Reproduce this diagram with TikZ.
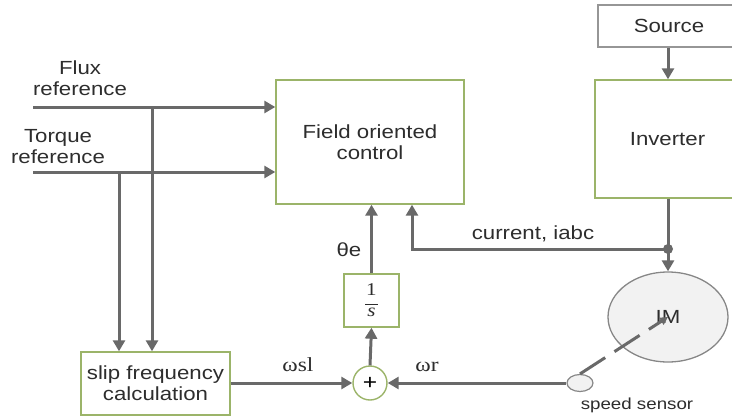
\documentclass[tikz,border=0pt]{standalone}
\usepackage{fontspec}
\setmainfont[FakeStretch=1.17]{Liberation Sans}
\newfontfamily\serifont[FakeStretch=1.17]{Liberation Serif}
\usetikzlibrary{arrows.meta,positioning,shapes.geometric}
\definecolor{blockgreen}{RGB}{155,180,105}
\definecolor{linegrey}{RGB}{105,105,105}
\definecolor{sourcegrey}{RGB}{150,150,150}
\definecolor{motorgrey}{RGB}{242,242,242}
\definecolor{textgrey}{RGB}{45,45,45}
\tikzset{
  block/.style={
    draw=blockgreen,
    line width=1.4pt,
    fill=white,
    align=center,
    font=\fontsize{19}{21}\selectfont,
    text=textgrey,
    inner sep=2pt
  },
  sourcebox/.style={block, draw=sourcegrey},
  sumcircle/.style={circle, draw=blockgreen, line width=1.4pt, fill=white, minimum size=34pt, inner sep=0pt, font=\fontsize{21}{21}\selectfont},
  motor/.style={ellipse, draw=linegrey!80, line width=1.3pt, fill=motorgrey, minimum width=120pt, minimum height=90pt, font=\fontsize{19}{21}\selectfont, text=textgrey},
  sensor/.style={ellipse, draw=linegrey!80, line width=1.2pt, fill=motorgrey, minimum width=26pt, minimum height=17pt, inner sep=0pt},
  lbl/.style={align=center, text=textgrey, font=\fontsize{19}{21}\selectfont},
  greeklbl/.style={text=textgrey, font=\serifont\fontsize{20}{22}\selectfont},
  arrow/.style={-{Triangle[length=11pt,width=12pt]}, line width=3pt, draw=linegrey},
  dashedarrow/.style={-{Triangle[length=8pt,width=8pt]}, line width=3pt, draw=linegrey, dash pattern=on 30pt off 11pt},
}
\begin{document}
\begin{tikzpicture}[x=1pt,y=-1pt]
\clip (0,0) rectangle (732,418);

% Blocks
\node[sourcebox, minimum width=142pt, minimum height=42pt] (source) at (669,26) {Source};
\node[block, minimum width=145pt, minimum height=118pt] (inverter) at (667.5,139) {Inverter};
\node[block, minimum width=188pt, minimum height=124pt] (foc) at (370,142) {Field oriented\\control};
\node[block, minimum width=149pt, minimum height=63pt] (slip) at (155.5,383.5) {slip frequency\\calculation};
\node[block, minimum width=55pt, minimum height=53pt, font=\serifont\fontsize{18}{13}\selectfont] (integ) at (371.5,300.5) {1\\[-4pt]\rule{13pt}{1.3pt}\\[-1pt]\textit{s}};
\node[sumcircle] (sum) at (370,383) {+};
\node[motor] (im) at (668,317) {IM};
\node[sensor] (speed) at (580,383) {};

% Reference inputs
\node[lbl] (fluxlbl) at (80,78) {Flux\\reference};
\node[lbl] (torquelbl) at (58,147) {Torque\\reference};
\coordinate (fluxin) at (33,107);
\coordinate (torquein) at (33,172);
\coordinate (fluxtap) at (152,107);
\coordinate (torquetap) at (119,172);
\draw[arrow] (fluxin) -- (fluxin -| foc.west);
\draw[arrow] (torquein) -- (torquein -| foc.west);
\draw[arrow] (fluxtap) -- (fluxtap |- slip.north);
\draw[arrow] (torquetap) -- (torquetap |- slip.north);

% Slip and angle path
\draw[arrow] (slip.east |- sum) -- (sum.west);
\node[greeklbl] (wsl) at (298,365) {ωsl};
\draw[arrow] (sum.north) -- (integ.south);
\draw[arrow] (integ.north) -- (integ.north |- foc.south);
\node[lbl] (theta) at (349,250) {θe};

% Power path
\draw[arrow] (source.south -| im.north) -- (inverter.north -| im.north);
\draw[arrow] (inverter.south -| im.north) -- (im.north);

% Current feedback
\coordinate (itap) at (668,249);
\fill[linegrey] (itap) circle (5pt);
\draw[arrow] (itap) -| ([xshift=42pt]foc.south);
\node[lbl] (curlbl) at (533,234) {current, iabc};

% Speed feedback
\draw[dashedarrow] (speed.north) -- (im.center);
\draw[arrow] (speed.west) -- (sum.east);
\node[greeklbl] (wr) at (427,367) {ωr};
\node[lbl, font=\fontsize{16}{18}\selectfont] (sensorlbl) at (637,405) {speed sensor};

\end{tikzpicture}
\end{document}
